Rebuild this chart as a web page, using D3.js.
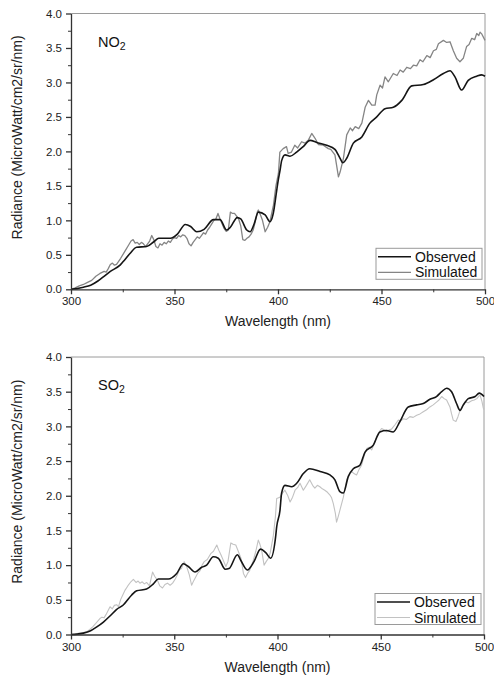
<!DOCTYPE html>
<html>
<head>
<meta charset="utf-8">
<script src="https://cdn.jsdelivr.net/npm/d3@7/dist/d3.min.js"></script>
<style>
  body { margin: 0; background: #fff; }
  svg { display: block; font-family: "Liberation Sans", Arial, sans-serif; }
  .axis path, .axis line { stroke: #333; }
  .axis text { fill: #222; font-size: 11.5px; }
  .axis-title { fill: #222; font-size: 14px; }
</style>
</head>
<body>
<svg id="chart" width="494" height="678"></svg>
<script>
// ---- data ----
const xTicks = [300, 350, 400, 450, 500];
const yTicks = [0, 0.5, 1, 1.5, 2, 2.5, 3, 3.5, 4];

// NO2 panel
const no2ObsNm = [300,303,306,309.5,313,315.6,319,323.7,326,328.5,331.7,336.5,340,342.4,348,351.4,355.2,357.8,360.7,364.3,368.8,372,375.2,377,380.3,382,384.9,386.5,388.5,390.5,393.8,396.1,397.7,399.4,400.1,401,401.8,403.4,405.8,409,412.2,415.5,418.7,423.5,427.5,430,431.3,433.2,436.4,440.5,444.4,447.7,451.7,455.7,459.8,464.6,470.2,475.1,479.9,483.1,485.5,488.7,491.9,496,498.4,500];
const no2ObsVal = [0,0.01,0.03,0.06,0.12,0.18,0.26,0.35,0.43,0.52,0.61,0.62,0.69,0.74,0.74,0.80,0.94,0.91,0.835,0.87,1.01,1.01,0.86,0.90,1.04,1.02,0.86,0.835,0.95,1.12,1.08,0.98,1.10,1.44,1.58,1.73,1.87,1.95,1.93,1.99,2.07,2.16,2.13,2.09,2.03,1.90,1.835,1.90,2.12,2.21,2.41,2.50,2.62,2.64,2.74,2.95,2.97,3.04,3.13,3.17,3.08,2.89,3.03,3.09,3.11,3.09];

const no2SimNm = [300,302,304,306,308,310,312,314,316,317,318,319,320,321,322,324,326,328,329,330,331,332,333,334,335,336,337,338,339,340,341,342,343,344,345,346,347,348,349,350,351,352,353,354,355,356,357,358,359,360,361,362,363,364,365,366,367,368,369,370,371,372,373,374,375,376,377,378,379,380,381,382,383,384,385,386,387,388,389,390,390.5,391.5,392.5,393.8,395,396.1,397.8,399,400.2,400.9,402.5,404.1,404.9,406.5,408.1,409.5,411.4,413,414.6,416.3,417.9,419.5,421.9,424.3,425.5,427.5,429.2,430,431.6,433.2,434.9,436,437.3,439,440.5,442.1,443.7,445.3,446.9,447.7,449.3,450.5,451.7,453.3,455.7,457.5,459,460.5,462.2,464,465.4,467,468.6,470,471.9,473.5,475.1,476.5,477.5,479.9,481.5,483.1,484.7,486.3,487.9,489.5,491.1,492.3,493.6,495,496,497,497.6,498.5,500];
const no2SimVal = [0,0.02,0.05,0.07,0.10,0.13,0.19,0.23,0.26,0.25,0.30,0.36,0.38,0.35,0.36,0.45,0.55,0.65,0.70,0.72,0.67,0.68,0.65,0.68,0.66,0.62,0.66,0.70,0.78,0.72,0.62,0.60,0.66,0.64,0.68,0.66,0.70,0.68,0.73,0.75,0.74,0.78,0.76,0.79,0.78,0.74,0.66,0.63,0.68,0.72,0.76,0.74,0.78,0.82,0.80,0.86,0.90,0.95,1.00,1.02,1.10,1.02,0.95,0.88,0.84,0.86,1.12,1.10,1.10,1.06,1.02,0.92,0.72,0.71,0.74,0.76,0.80,0.86,0.98,1.12,1.15,1.08,1.00,0.835,0.90,0.98,1.22,1.50,1.68,1.99,2.04,2.07,1.97,1.99,2.09,2.05,2.14,2.12,2.16,2.26,2.19,2.10,2.09,2.04,2.03,1.95,1.63,1.70,1.90,2.24,2.34,2.30,2.36,2.33,2.41,2.64,2.74,2.67,2.67,2.82,2.96,2.92,3.08,3.01,3.13,3.10,3.18,3.15,3.22,3.20,3.25,3.24,3.33,3.30,3.39,3.36,3.46,3.48,3.56,3.61,3.58,3.59,3.46,3.35,3.30,3.35,3.52,3.55,3.64,3.62,3.71,3.68,3.73,3.70,3.61];

// SO2 panel
const so2ObsNm = [300,303,306,309.5,312.5,315.7,319,322,325.3,329.4,331.8,336.6,339.9,342.3,347.1,351.2,354.4,356.8,360.1,363.3,365.7,368.9,371.3,374.7,376.5,380.6,382.2,385.4,388.6,391.8,394.3,396.7,399.1,399.6,401.2,402,403.6,406.9,409.3,412.5,415.6,420.6,425.4,427.8,430.2,431.9,434.3,436.7,439.9,442.4,446.4,449.6,452.8,456,459.3,463.3,467.4,470.6,473.8,477,479.5,481.9,484.3,486.7,488.4,490,492.4,495.7,497.7,500];
const so2ObsVal = [0,0.005,0.02,0.055,0.11,0.18,0.27,0.36,0.425,0.57,0.63,0.655,0.73,0.80,0.80,0.88,1.02,0.98,0.90,0.97,1.00,1.12,1.10,0.94,0.95,1.15,1.07,0.93,1.05,1.23,1.18,1.10,1.41,1.55,1.79,2.04,2.15,2.13,2.18,2.32,2.39,2.35,2.30,2.23,2.06,2.04,2.28,2.39,2.44,2.63,2.73,2.92,2.94,2.92,3.07,3.28,3.31,3.33,3.39,3.43,3.50,3.55,3.50,3.33,3.23,3.31,3.40,3.43,3.48,3.43];

const so2SimNm = [300,302,304,306,307.6,309,310.5,312,314,315,316,317,318.9,320,321,322.1,323,324,326.2,327.5,329,330.2,331.5,332.5,333.4,334.5,335.5,336.6,338,339.5,340.5,341.9,343,344.3,345.5,346.7,348,349.2,350.5,351.5,352.4,353.5,354.8,356,357.3,358.4,359.5,361.3,362.5,363.5,364.5,366,367.8,369,370.6,371.5,372.6,374,375,376,377.4,378.5,379.8,381,382.3,383.5,384.5,385.5,386.5,388.3,389.5,390.7,391.5,392.3,393.5,394.5,395.6,396.5,398,399,399.6,401.2,402.5,403.6,405,406.1,407.3,408.5,409.8,410.9,412.5,414,415.6,417,418.1,419.3,420.5,421.7,422.9,424.2,425.4,426.2,427,428,428.6,429.4,430.2,431.9,433.5,434.7,435.9,437,438.3,439.5,440.7,442,443.2,444.4,445.6,446.8,448,449.2,450.4,451.6,452.8,454,455.2,456.8,458.5,459.7,460.9,462.5,464.1,465.7,467.4,469,470.6,472.2,473.8,475.4,477,478.2,479.5,480.7,481.9,483.5,484.3,485.1,486.4,487.4,488.4,489.6,490.8,492.4,494,495.3,496.5,497.3,498.1,499,499.7,500];
const so2SimVal = [0,0.005,0.02,0.03,0.04,0.07,0.11,0.16,0.23,0.25,0.24,0.29,0.40,0.37,0.42,0.43,0.40,0.50,0.64,0.70,0.76,0.795,0.75,0.77,0.74,0.76,0.73,0.75,0.70,0.90,0.84,0.78,0.70,0.67,0.72,0.74,0.71,0.74,0.80,0.86,0.93,0.95,1.05,0.98,0.86,0.71,0.78,0.88,0.92,1.00,1.05,1.08,1.17,1.20,1.29,1.22,1.15,1.05,0.98,1.05,1.32,1.30,1.29,1.20,1.10,0.88,0.82,0.88,0.92,1.07,1.20,1.36,1.30,1.22,1.00,1.05,1.10,1.18,1.43,1.70,1.96,1.98,2.04,2.08,2.00,1.91,1.98,2.08,2.12,2.18,2.08,2.15,2.23,2.15,2.11,2.15,2.13,2.10,2.08,2.05,2.01,1.97,1.89,1.75,1.62,1.70,1.79,1.98,2.23,2.30,2.35,2.32,2.30,2.38,2.44,2.58,2.68,2.70,2.66,2.75,2.85,2.92,2.97,2.95,2.92,2.95,2.96,3.02,3.09,3.08,3.11,3.10,3.14,3.13,3.16,3.18,3.21,3.24,3.28,3.31,3.35,3.38,3.43,3.40,3.38,3.28,3.18,3.09,3.07,3.14,3.23,3.30,3.35,3.34,3.37,3.38,3.40,3.43,3.45,3.36,3.26,3.24];

const seriesNames = ["Observed", "Simulated"];

// ---- drawing ----
const svg = d3.select("#chart");
const fmt = d3.format(".1f");

function drawPanel(cfg) {
  const x = d3.scaleLinear().domain([300, 500]).range([cfg.left, cfg.right]);
  const y = d3.scaleLinear().domain([0, 4]).range([cfg.bottom, cfg.top]);
  const g = svg.append("g");

  // frame: top and right
  g.append("line").attr("x1", cfg.left).attr("x2", cfg.right).attr("y1", cfg.top).attr("y2", cfg.top)
    .attr("stroke", "#9a9a9a").attr("stroke-width", 1);
  g.append("line").attr("x1", cfg.right).attr("x2", cfg.right).attr("y1", cfg.top).attr("y2", cfg.bottom)
    .attr("stroke", "#9a9a9a").attr("stroke-width", 1);

  // curves
  const obsData = cfg.obsNm.map((d, i) => [d, cfg.obsVal[i]]);
  const simData = cfg.simNm.map((d, i) => [d, cfg.simVal[i]]);
  const lineSmooth = d3.line().x(d => x(d[0])).y(d => y(d[1])).curve(d3.curveMonotoneX);
  const lineRaw = d3.line().x(d => x(d[0])).y(d => y(d[1]));

  g.append("path").datum(simData).attr("d", lineRaw)
    .attr("fill", "none").attr("stroke", cfg.simColor).attr("stroke-width", cfg.simWidth)
    .attr("stroke-linejoin", "round");
  g.append("path").datum(obsData).attr("d", lineSmooth)
    .attr("fill", "none").attr("stroke", "#151515").attr("stroke-width", 1.6)
    .attr("stroke-linejoin", "round");

  // axes
  const xAxis = d3.axisBottom(x).tickValues(xTicks).tickSize(5).tickSizeOuter(0).tickPadding(3);
  const xMinor = d3.axisBottom(x).tickValues([325, 375, 425, 475]).tickSize(3).tickFormat("");
  const yAxis = d3.axisLeft(y).tickValues(yTicks).tickSize(5).tickSizeOuter(0).tickFormat(fmt).tickPadding(4);
  const yMinor = d3.axisLeft(y).tickValues([0.25, 0.75, 1.25, 1.75, 2.25, 2.75, 3.25, 3.75]).tickSize(3).tickFormat("");

  g.append("g").attr("class", "axis").attr("transform", `translate(0,${cfg.bottom})`).call(xMinor)
    .select(".domain").remove();
  g.append("g").attr("class", "axis").attr("transform", `translate(${cfg.left},0)`).call(yMinor)
    .select(".domain").remove();
  g.append("g").attr("class", "axis").attr("transform", `translate(0,${cfg.bottom})`).call(xAxis)
    .selectAll("path, line").attr("stroke-width", 1.3);
  g.append("g").attr("class", "axis").attr("transform", `translate(${cfg.left},0)`).call(yAxis)
    .selectAll("path, line").attr("stroke-width", 1.3);

  // axis titles
  g.append("text").attr("class", "axis-title")
    .attr("x", (cfg.left + cfg.right) / 2).attr("y", cfg.bottom + 37)
    .attr("text-anchor", "middle").text("Wavelength (nm)");
  g.append("text").attr("class", "axis-title")
    .attr("transform", `translate(22,${(cfg.top + cfg.bottom) / 2 - 14}) rotate(-90)`)
    .attr("text-anchor", "middle").text("Radiance (MicroWatt/cm2/sr/nm)");

  // gas label
  const gas = g.append("text").attr("x", cfg.left + 27).attr("y", cfg.top + 33)
    .attr("font-size", 14.5).attr("fill", "#111");
  gas.append("tspan").text(cfg.gas);
  gas.append("tspan").attr("font-size", 10.5).attr("dy", 3).text("2");

  // legend
  const lx = cfg.right - 109, ly = cfg.bottom - 41;
  g.append("rect").attr("x", lx).attr("y", ly).attr("width", 106).attr("height", 31)
    .attr("fill", "#fff").attr("stroke", "#9a9a9a").attr("stroke-width", 1);
  const colors = ["#151515", cfg.simColor];
  const widths = [1.6, cfg.simWidth];
  seriesNames.forEach((name, i) => {
    const cy = ly + 8.5 + i * 15.5;
    g.append("line").attr("x1", lx + 2).attr("x2", lx + 35).attr("y1", cy).attr("y2", cy)
      .attr("stroke", colors[i]).attr("stroke-width", widths[i]);
    g.append("text").attr("x", lx + 39).attr("y", cy + 5).attr("font-size", 14)
      .attr("fill", "#111").text(name);
  });
}

drawPanel({
  left: 71, right: 485, top: 13.5, bottom: 289.3,
  gas: "NO", obsNm: no2ObsNm, obsVal: no2ObsVal, simNm: no2SimNm, simVal: no2SimVal,
  simColor: "#858585", simWidth: 1.3
});
drawPanel({
  left: 71, right: 484, top: 357, bottom: 634.5,
  gas: "SO", obsNm: so2ObsNm, obsVal: so2ObsVal, simNm: so2SimNm, simVal: so2SimVal,
  simColor: "#c2c2c2", simWidth: 1.1
});
</script>
</body>
</html>
